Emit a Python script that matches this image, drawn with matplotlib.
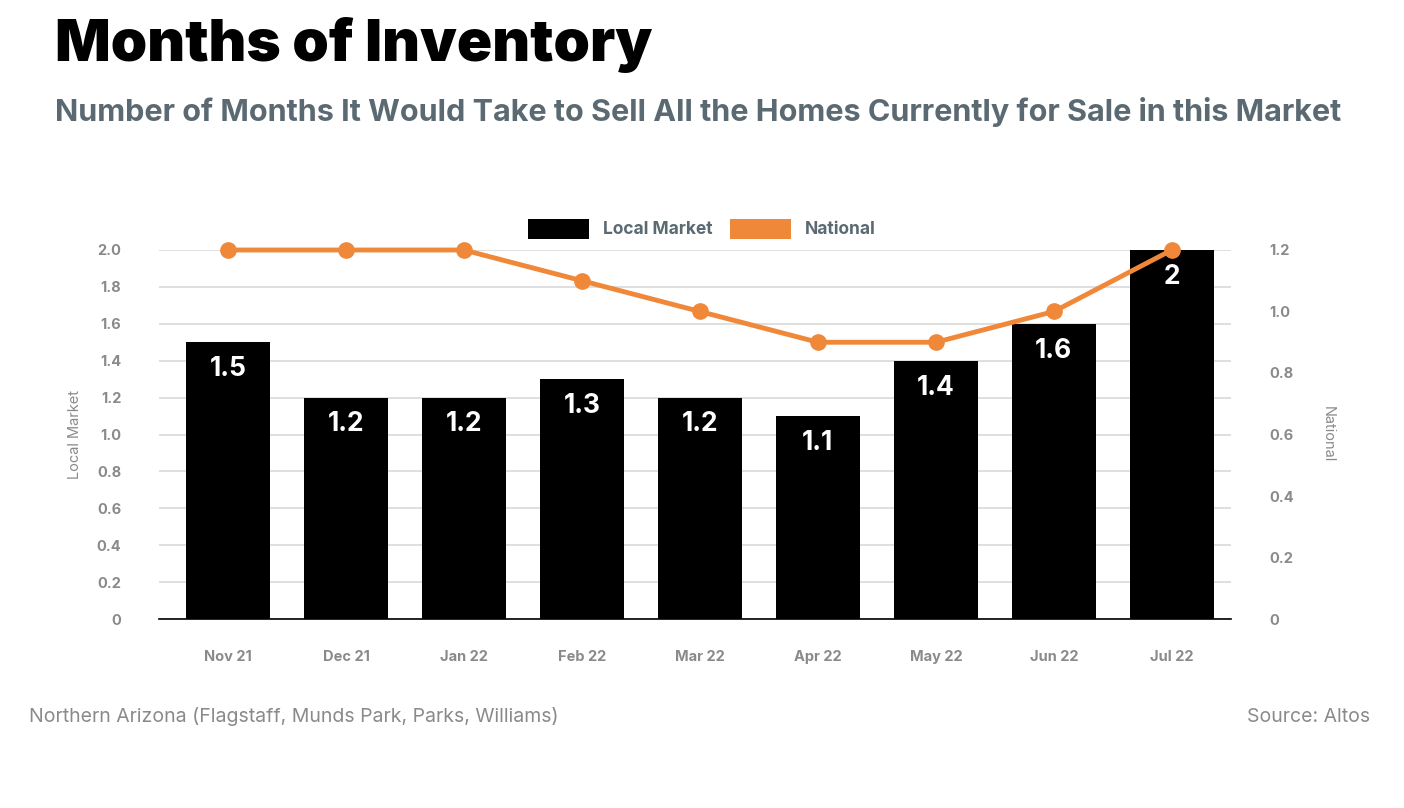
import matplotlib.pyplot as plt
from matplotlib.patches import Patch

# Data
months = ["Nov 21", "Dec 21", "Jan 22", "Feb 22", "Mar 22", "Apr 22", "May 22", "Jun 22", "Jul 22"]
local_market = [1.5, 1.2, 1.2, 1.3, 1.2, 1.1, 1.4, 1.6, 2.0]
national = [1.2, 1.2, 1.2, 1.1, 1.0, 0.9, 0.9, 1.0, 1.2]
left_ticks = [0, 0.2, 0.4, 0.6, 0.8, 1.0, 1.2, 1.4, 1.6, 1.8, 2.0]
right_ticks = [0, 0.2, 0.4, 0.6, 0.8, 1.0, 1.2]

ORANGE = "#F0883A"
GREY = "#8a8a8a"
SLATE = "#5b6a72"

plt.rcParams['font.family'] = ['Inter', 'DejaVu Sans']

fig = plt.figure(figsize=(14.04, 8.08), dpi=100)
ax = fig.add_axes([0.1132, 0.2339, 0.7635, 0.4567])
ax2 = ax.twinx()

x = list(range(len(months)))
ax.bar(x, local_market, width=0.71, color="black", zorder=2)
for xi, v in zip(x, local_market):
    ax.text(xi, v - 0.075, f"{v:g}", ha="center", va="top", color="white",
            fontsize=19, fontweight="bold", zorder=3)

ax.set_xlim(-0.585, 8.5)
ax.set_ylim(0, 2.0)
ax.set_yticks(left_ticks)
ax.set_yticklabels([f"{t:.1f}" if t else "0" for t in left_ticks])
ax.set_xticks(x)
ax.set_xticklabels(months)
ax.grid(axis="y", color="#d9d9d9", linewidth=1.2, zorder=0)
ax.set_axisbelow(True)
for s in ["top", "right", "left"]:
    ax.spines[s].set_visible(False)
ax.spines["bottom"].set_color("black")
ax.spines["bottom"].set_linewidth(1.2)
ax.tick_params(axis="both", length=0, colors=GREY, labelsize=10.5)
ax.tick_params(axis="x", pad=22)
ax.tick_params(axis="y", pad=27)
for lbl in ax.get_xticklabels() + ax.get_yticklabels():
    lbl.set_fontweight("bold")
ax.set_ylabel("Local Market", color=GREY, fontsize=10.5, labelpad=11)

ax2.plot(x, national, color=ORANGE, linewidth=3.5, marker="o", markersize=11,
         zorder=4, clip_on=False)
ax2.set_ylim(0, 1.2)
ax2.set_yticks(right_ticks)
ax2.set_yticklabels([f"{t:.1f}" if t else "0" for t in right_ticks])
for s in ["top", "right", "left", "bottom"]:
    ax2.spines[s].set_visible(False)
ax2.tick_params(axis="y", length=0, colors=GREY, labelsize=10.5, pad=28)
for lbl in ax2.get_yticklabels():
    lbl.set_fontweight("bold")
ax2.set_ylabel("National", color=GREY, fontsize=10.5, rotation=-90, labelpad=29)

handles = [Patch(facecolor="black"), Patch(facecolor=ORANGE)]
leg = fig.legend(handles, ["Local Market", "National"], loc="center", bbox_to_anchor=(0.5, 0.717),
                 ncol=2, frameon=False, handlelength=3.5, handleheight=1.4, columnspacing=1.0,
                 handletextpad=0.8, prop={"weight": "bold", "size": 12.5})
for t in leg.get_texts():
    t.set_color(SLATE)

fig.text(0.039, 0.944, "Months of Inventory", fontsize=42, fontweight="black",
         color="black", va="center", ha="left")
fig.text(0.039, 0.862, "Number of Months It Would Take to Sell All the Homes Currently for Sale in this Market",
         fontsize=22, fontweight="bold", color=SLATE, va="center", ha="left")
fig.text(0.021, 0.113, "Northern Arizona (Flagstaff, Munds Park, Parks, Williams)",
         fontsize=14, color=GREY, va="center", ha="left")
fig.text(0.976, 0.113, "Source: Altos", fontsize=14, color=GREY, va="center", ha="right")

fig.savefig("out.png", dpi=100, facecolor="white")
